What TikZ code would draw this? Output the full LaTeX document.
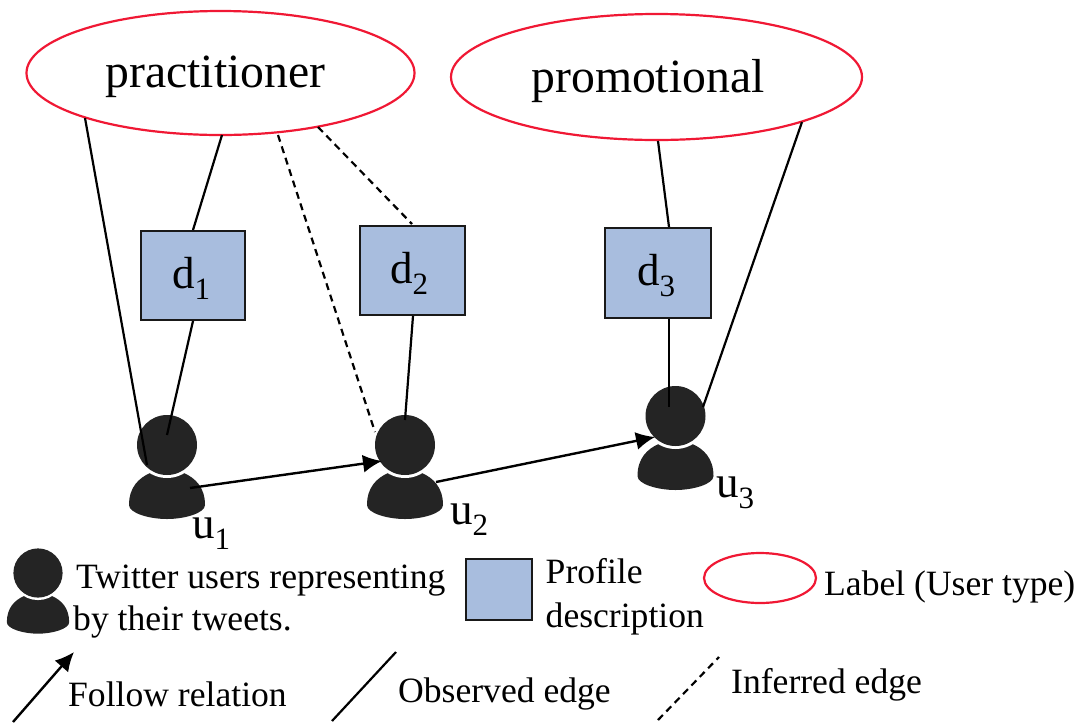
\documentclass[tikz,border=0pt]{standalone}
\usepackage{fontspec}
\setmainfont{Liberation Serif}
\usetikzlibrary{shapes.geometric,arrows.meta}
\definecolor{labelred}{RGB}{240,24,52}
\definecolor{boxblue}{RGB}{168,189,222}
\definecolor{userblack}{RGB}{36,36,36}
\newcommand{\lowsub}[1]{\raisebox{-11pt}{\fontsize{31}{31}\selectfont #1}}
\tikzset{
 x=1pt,y=-1pt,
 labelell/.style={ellipse,draw=labelred,line width=2.2pt,fill=white,inner sep=0pt},
 descbox/.style={rectangle,draw=black!90,line width=2.6pt,fill=boxblue,inner sep=0pt},
 dlab/.style={inner sep=0pt,anchor=base west,font=\fontsize{45}{45}\selectfont},
 headdisc/.style={circle,fill=userblack,inner sep=0pt},
 edgeline/.style={line width=2.2pt,black},
 inferred/.style={line width=2.2pt,black,dash pattern=on 7pt off 5pt},
 follow/.style={line width=2.4pt,black,-{Latex[length=19pt,width=18pt]}},
 lab/.style={inner sep=0pt,anchor=base west},
 leg/.style={lab,font=\fontsize{35.6}{35.6}\selectfont},
 ulab/.style={lab,font=\fontsize{45}{45}\selectfont},
 bignm/.style={inner sep=0pt,anchor=base,font=\fontsize{47.7}{47.7}\selectfont},
}
\newcommand{\usericon}[4]{%
 \begin{scope}[shift={(#2,#3)},scale=#4]
  \fill[userblack] (-17,28) .. controls (-28,33) and (-38,42) .. (-38,60)
    .. controls (-38,68) and (-18,74) .. (0,74)
    .. controls (18,74) and (38,68) .. (38,60)
    .. controls (38,42) and (28,33) .. (17,28) -- cycle;
  \fill[white] (0,0) circle[radius=33];
  \node[headdisc,minimum size=60pt*#4] (#1) at (0,0) {};
 \end{scope}}
\begin{document}
\begin{tikzpicture}
\useasboundingbox (0,0) rectangle (1081,724);
% label ellipses
\node[labelell,minimum width=388pt,minimum height=124pt] (practitioner) at (220.5,73) {};
\node[labelell,minimum width=411pt,minimum height=126pt] (promotional) at (656.5,77) {};
\node[bignm] (tp) at (215.5,87) {practitioner};
\node[bignm] (tq) at (648,92) {promotional};
% users
\usericon{uA}{167}{445}{1}
\usericon{uB}{405}{445}{1}
\usericon{uC}{675.5}{416}{1}
% boxes
\node[descbox,minimum width=104pt,minimum height=89pt] (dA) at (193,275.5) {};
\node[descbox,minimum width=105pt,minimum height=89pt] (dB) at (412.5,270.5) {};
\node[descbox,minimum width=106pt,minimum height=90pt] (dC) at (658,273) {};
\node[dlab] (tdA) at (172,288) {d\lowsub{1}};
\node[dlab] (tdB) at (390,283) {d\lowsub{2}};
\node[dlab] (tdC) at (637,285) {d\lowsub{3}};
% edge end points
\coordinate (pa) at (85,118);
\coordinate (ua) at (147,465);
\coordinate (pb) at (222,135);
\coordinate (ub) at (167,435);
\coordinate (pc) at (278,135);
\coordinate (uc) at (375,432);
\coordinate (pd) at (318,127);
\coordinate (dbt) at (412,224);
\coordinate (ud) at (405,420);
\coordinate (qa) at (658,141);
\coordinate (qb) at (802,122);
\coordinate (ue) at (703,407);
\coordinate (uf) at (669,407);
\coordinate (fa) at (190,488);
\coordinate (fb) at (382,461);
\coordinate (fc) at (436,482);
\coordinate (fd) at (655,437);
\coordinate (dAt) at (193,230);
\coordinate (dAb) at (193,321);
\coordinate (dBb) at (413,316);
\coordinate (dCt) at (669,227);
\coordinate (dCb) at (669,319);
\draw[edgeline] (pa) -- (ua);
\draw[edgeline] (pb) -- (dAt);
\draw[edgeline] (dAb) -- (ub);
\draw[inferred] (pc) -- (uc);
\draw[inferred] (pd) -- (dbt);
\draw[edgeline] (dBb) -- (ud);
\draw[edgeline] (qa) -- (dCt);
\draw[edgeline] (dCb) -- (uf);
\draw[edgeline] (qb) -- (ue);
\draw[follow] (fa) -- (fb);
\draw[follow] (fc) -- (fd);
% user labels
\node[ulab] (lA) at (192,538) {u\lowsub{1}};
\node[ulab] (lB) at (450,524) {u\lowsub{2}};
\node[ulab] (lC) at (716,497) {u\lowsub{3}};
% legend
\usericon{uL}{38}{573}{0.82}
\node[leg] (t1) at (76,588) {Twitter users representing};
\node[leg] (t2) at (73,630) {by their tweets.};
\node[descbox,minimum width=66pt,minimum height=61pt] (lbox) at (499,589.5) {};
\node[leg] (t3) at (545.5,583) {Profile};
\node[leg] (t4) at (545.5,627) {description};
\node[labelell,minimum width=112pt,minimum height=50pt] (lell) at (760,578) {};
\node[leg] (t5) at (824,595) {Label (User type)};
\coordinate (la) at (13,722);
\coordinate (lb) at (74,652);
\coordinate (lc) at (332,721);
\coordinate (ld) at (396,652);
\coordinate (le) at (658,720);
\coordinate (lf) at (719,657);
\draw[follow] (la) -- (lb);
\draw[edgeline] (lc) -- (ld);
\draw[inferred] (le) -- (lf);
\node[leg] (t6) at (68,706) {Follow relation};
\node[leg] (t7) at (398,702) {Observed edge};
\node[leg] (t8) at (731,693) {Inferred edge};
\end{tikzpicture}
\end{document}
